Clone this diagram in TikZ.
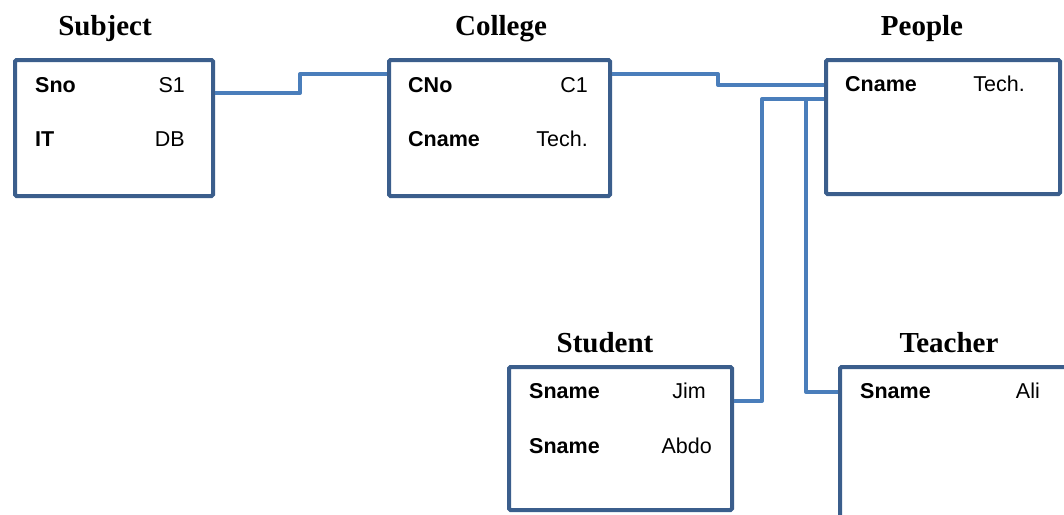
\documentclass[tikz,border=0pt]{standalone}
\usepackage{fontspec}
\setmainfont{Liberation Serif}
\newfontfamily\arialfont{Liberation Sans}
\usetikzlibrary{calc}
\definecolor{boxblue}{HTML}{3B5E8C}
\definecolor{linkblue}{HTML}{4A7EBB}
\tikzset{
  table/.style={draw=boxblue, line width=4pt, rounded corners=1.5pt, rectangle,
    inner sep=0pt, anchor=north west},
  title/.style={font=\fontsize{29}{30}\selectfont\bfseries, inner sep=0pt, anchor=base},
  key/.style={font=\arialfont\fontsize{21.5}{22}\selectfont\bfseries, inner sep=0pt, anchor=base west},
  val/.style={font=\arialfont\fontsize{21.5}{22}\selectfont, inner sep=0pt, anchor=base east},
  link/.style={draw=linkblue, line width=4pt, line join=round}
}
\begin{document}
\begin{tikzpicture}[x=1pt,y=-1pt]
\useasboundingbox (0,0) rectangle (1064,514);
\clip (0,0) rectangle (1064,514);

% tables (anchored at their outer corners)
\node[table, minimum width=198pt, minimum height=136pt] (subject) at (13,58) {};
\node[table, minimum width=221pt, minimum height=136pt] (college) at (387,58) {};
\node[table, minimum width=234pt, minimum height=134pt] (people) at (824,58) {};
\node[table, minimum width=223pt, minimum height=143pt] (student) at (507,365) {};
\node[table, minimum width=250pt, minimum height=160pt] (teacher) at (838,365) {};

% titles
\node[title] (tsubject) at (105,35) {Subject};
\node[title] (tcollege) at (501,35) {College};
\node[title] (tpeople) at (922,35) {People};
\node[title] (tstudent) at (605,352) {Student};
\node[title] (tteacher) at (949,352) {Teacher};

% fields
\node[key] (k1) at (35,92) {Sno};
\node[val] (v1) at (185,92) {S1};
\node[key] (k2) at (35,146) {IT};
\node[val] (v2) at (185,146) {DB};

\node[key] (k3) at (408,92) {CNo};
\node[val] (v3) at (588,92) {C1};
\node[key] (k4) at (408,146) {Cname};
\node[val] (v4) at (588,146) {Tech.};

\node[key] (k5) at (845,91) {Cname};
\node[val] (v5) at (1025,91) {Tech.};

\node[key] (k6) at (529,398) {Sname};
\node[val] (v6) at (706,398) {Jim};
\node[key] (k7) at (529,453) {Sname};
\node[val] (v7) at (712,453) {Abdo};

\node[key] (k8) at (860,398) {Sname};
\node[val] (v8) at (1040,398) {Ali};

% connectors
\draw[link] ([yshift=-35pt]subject.north east) -- ++(85,0) |- ([yshift=-16pt]college.north west);
\draw[link] ([yshift=-16pt]college.north east) -- ++(106,0) |- ([yshift=-27pt]people.north west);
\draw[link] ([yshift=-41pt]people.north west) -- ++(-62,0) |- ([yshift=-36pt]student.north east);
\draw[link] ([yshift=-41pt]people.north west) -- ++(-18,0) |- ([yshift=-27pt]teacher.north west);
\end{tikzpicture}
\end{document}
